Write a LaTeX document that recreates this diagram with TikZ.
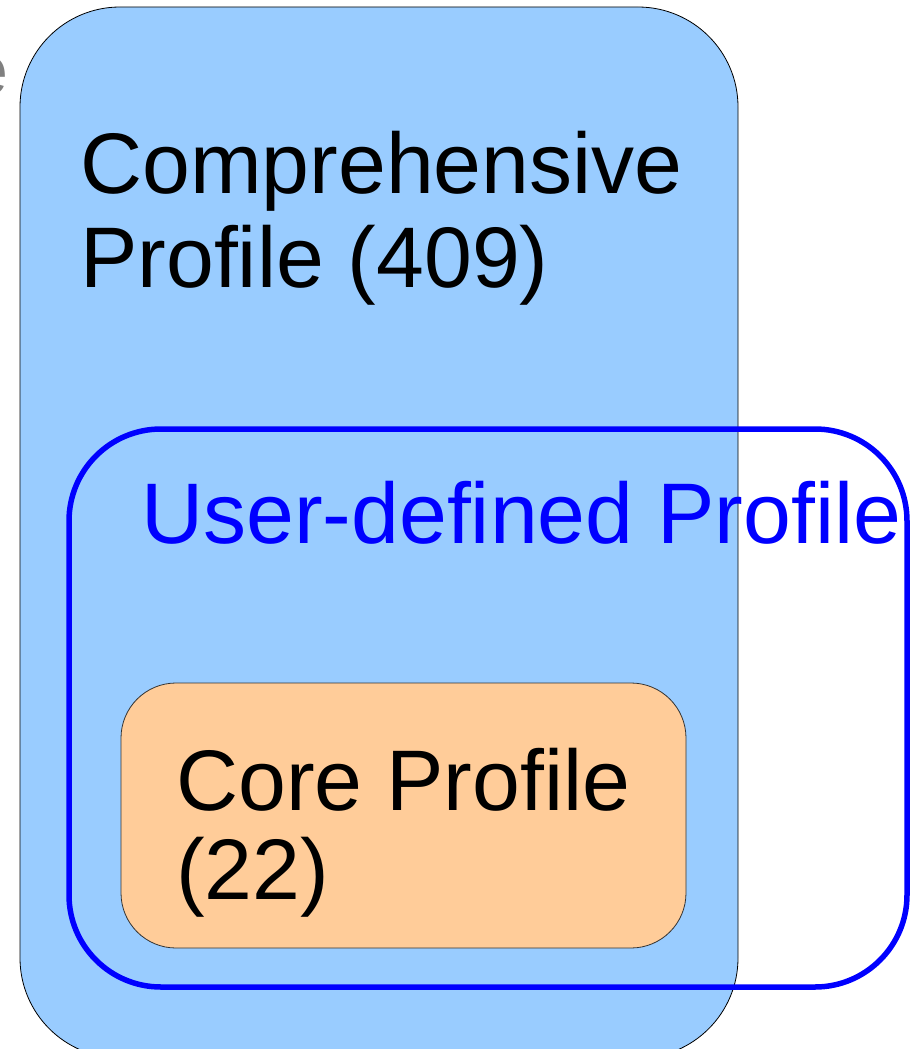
\documentclass[tikz,border=0pt]{standalone}
\usepackage{fontspec}
\setmainfont{Liberation Sans}
\definecolor{fillblue}{HTML}{99CCFF}
\definecolor{fillorange}{HTML}{FFCC99}
\definecolor{lineblue}{HTML}{0000FF}
\tikzset{
  bigtext/.style={anchor=base west, inner sep=0pt, font=\fontsize{86}{96}\selectfont},
}
\begin{document}
\begin{tikzpicture}[x=1pt,y=-1pt]
\useasboundingbox (0,0) rectangle (910,1049);
% partial grey letter at the top-left
\node[anchor=base east, inner sep=0pt, text=gray, font=\fontsize{70}{80}\selectfont] (cutletter) at (9,94) {e};
% comprehensive profile box
\draw[fill=fillblue, draw=black, line width=0.8pt, rounded corners=100pt] (20,7) rectangle (738,1058);
\node[bigtext] (comp1) at (80,193) {Comprehensive};
\node[bigtext] (comp2) at (80,287) {Profile (409)};
% core profile box
\draw[fill=fillorange, draw=black!80, line width=0.8pt, rounded corners=55pt] (121,683) rectangle (686,948);
\node[bigtext] (core1) at (176,810) {Core Profile};
\node[bigtext] (core2) at (176,899) {(22)};
% user-defined profile outline
\draw[draw=lineblue, line width=5.5pt, rounded corners=92pt] (69,429) rectangle (907,987);
\node[bigtext, text=lineblue] (user) at (141,543) {User-defined Profile};
\end{tikzpicture}
\end{document}
